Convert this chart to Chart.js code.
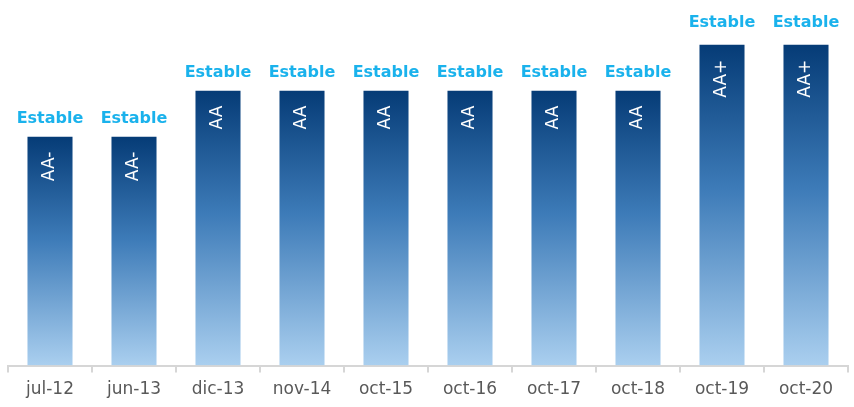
<!DOCTYPE html>
<html>
<head>
<meta charset="utf-8">
<script src="https://cdn.jsdelivr.net/npm/chart.js@4/dist/chart.umd.min.js"></script>
<style>
    html, body { margin: 0; padding: 0; background: #ffffff; }
    #wrap { width: 854px; height: 407px; position: relative; }
</style>
</head>
<body>
<div id="wrap"><canvas id="ratingChart"></canvas></div>
<script>
// Chart values
const categories = ['jul-12', 'jun-13', 'dic-13', 'nov-14', 'oct-15', 'oct-16', 'oct-17', 'oct-18', 'oct-19', 'oct-20'];
const ratingValues = [5, 5, 6, 6, 6, 6, 6, 6, 7, 7];
const ratingLabels = ['AA-', 'AA-', 'AA', 'AA', 'AA', 'AA', 'AA', 'AA', 'AA+', 'AA+'];
const outlookLabels = ['Estable', 'Estable', 'Estable', 'Estable', 'Estable', 'Estable', 'Estable', 'Estable', 'Estable', 'Estable'];
const yMin = 0;
const yMax = 7.95;

// Vertical gradient per bar, dark navy on top fading to light blue at the base
function barGradient(context) {
    const chart = context.chart;
    const area = chart.chartArea;
    if (!area || context.parsed === undefined) {
        return '#3a78b6';
    }
    const top = chart.scales.y.getPixelForValue(context.parsed.y);
    const bottom = chart.scales.y.getPixelForValue(0);
    const g = chart.ctx.createLinearGradient(0, top, 0, bottom);
    g.addColorStop(0, '#053b76');
    g.addColorStop(0.45, '#3d7bb8');
    g.addColorStop(1, '#aacfef');
    return g;
}

// Draws the outlook above each bar and the rating rotated inside it
const barTextPlugin = {
    id: 'barText',
    afterDatasetsDraw(chart) {
        const ctx = chart.ctx;
        const meta = chart.getDatasetMeta(0);
        meta.data.forEach((bar, i) => {
            ctx.save();
            ctx.font = 'bold 16px "DejaVu Sans"';
            ctx.fillStyle = '#1ab2ec';
            ctx.textAlign = 'center';
            ctx.textBaseline = 'alphabetic';
            const gap = ratingValues[i] >= 7 ? 17 : 13;
            ctx.fillText(outlookLabels[i], bar.x, bar.y - gap);

            ctx.translate(bar.x, bar.y + 16);
            ctx.rotate(-Math.PI / 2);
            ctx.font = '17px "DejaVu Sans"';
            ctx.fillStyle = '#ffffff';
            ctx.textAlign = 'right';
            ctx.textBaseline = 'middle';
            ctx.fillText(ratingLabels[i], 0, 0);
            ctx.restore();
        });
    }
};

new Chart(document.getElementById('ratingChart'), {
    type: 'bar',
    data: {
        labels: categories,
        datasets: [{
            data: ratingValues,
            backgroundColor: barGradient,
            borderColor: 'rgba(255, 255, 255, 0.3)',
            borderWidth: 1,
            borderSkipped: 'bottom',
            barPercentage: 0.56,
            categoryPercentage: 1.0
        }]
    },
    options: {
        responsive: true,
        maintainAspectRatio: false,
        animation: false,
        layout: {
            padding: { left: 8, right: 6, top: 0, bottom: 0 }
        },
        plugins: {
            legend: { display: false },
            tooltip: { enabled: false },
            title: { display: false }
        },
        scales: {
            x: {
                grid: {
                    display: true,
                    offset: true,
                    drawOnChartArea: false,
                    drawTicks: true,
                    tickLength: 7,
                    color: '#d6d6d6',
                    lineWidth: 2
                },
                border: {
                    display: true,
                    color: '#d6d6d6',
                    width: 2
                },
                ticks: {
                    color: '#595959',
                    padding: 7,
                    font: { family: '"DejaVu Sans"', size: 17 }
                }
            },
            y: {
                display: false,
                min: yMin,
                max: yMax
            }
        }
    },
    plugins: [barTextPlugin]
});
</script>
</body>
</html>
